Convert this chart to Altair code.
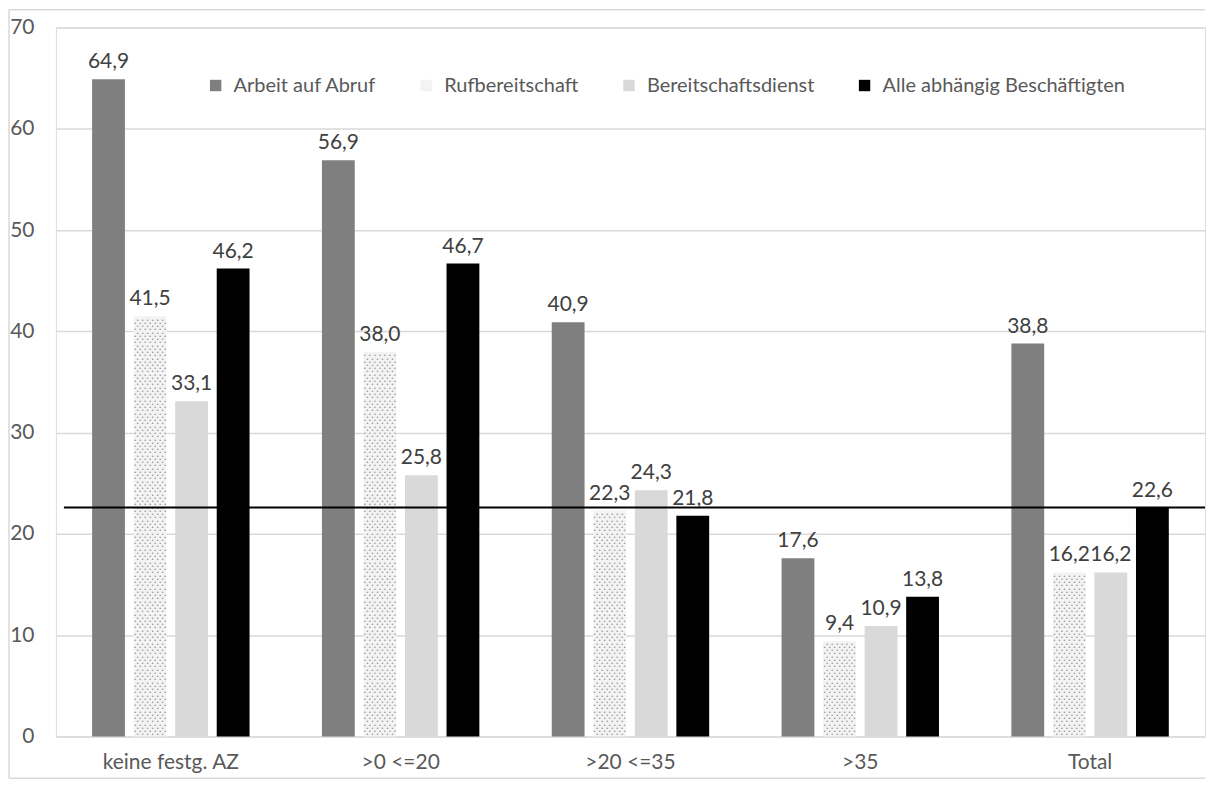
import altair as alt
import pandas as pd

categories = ["keine festg. AZ", ">0 <=20", ">20 <=35", ">35", "Total"]
series = ["Arbeit auf Abruf", "Rufbereitschaft", "Bereitschaftsdienst", "Alle abhängig Beschäftigten"]
arbeit_auf_abruf = [64.9, 56.9, 40.9, 17.6, 38.8]
rufbereitschaft = [41.5, 38.0, 22.3, 9.4, 16.2]
bereitschaftsdienst = [33.1, 25.8, 24.3, 10.9, 16.2]
alle = [46.2, 46.7, 21.8, 13.8, 22.6]
reference_line = 22.6
colors = ["#7f7f7f", "#f3f3f3", "#d9d9d9", "#000000"]

W, H = 1151, 710
FONT = "Lato"
FS = 21

rows = []
for s, vals in zip(series, [arbeit_auf_abruf, rufbereitschaft, bereitschaftsdienst, alle]):
    for c, v in zip(categories, vals):
        rows.append({"cat": c, "series": s, "value": v, "label": f"{v:.1f}".replace(".", ",")})
df = pd.DataFrame(rows)

# dot texture for the Rufbereitschaft bars
dot_rows = []
for c, v in zip(categories, rufbereitschaft):
    i = 0
    y = 0.2
    while y < v - 0.15:
        dot_rows.append({"cat": c, "series": "Rufbereitschaft", "value": y, "odd": i % 2})
        i += 1
        y += 0.32
dots = pd.DataFrame(dot_rows)

x_enc = alt.X("cat:N", sort=categories, title=None,
              scale=alt.Scale(paddingInner=0.315, paddingOuter=0.1575),
              axis=alt.Axis(labelAngle=0, ticks=False, domain=False, labelPadding=15,
                            labelFont=FONT, labelFontSize=FS, labelColor="#595959"))
xo_enc = alt.XOffset("series:N", sort=series,
                     scale=alt.Scale(domain=series, paddingInner=0.21, paddingOuter=0))
y_enc = alt.Y("value:Q", title=None,
              scale=alt.Scale(domain=[0, 70], nice=False),
              axis=alt.Axis(values=list(range(0, 80, 10)), ticks=False, domain=False,
                            labelPadding=22, labelFont=FONT, labelFontSize=FS,
                            labelColor="#595959", gridColor="#d9d9d9", gridWidth=1.5))

bars = alt.Chart(df).mark_bar().encode(
    x=x_enc, xOffset=xo_enc, y=y_enc,
    color=alt.Color("series:N", sort=series,
                    scale=alt.Scale(domain=series, range=colors),
                    legend=alt.Legend(title=None, orient="none", direction="horizontal",
                                      legendX=150, legendY=48, symbolType="square",
                                      symbolSize=130, symbolStrokeWidth=0,
                                      labelFont=FONT, labelFontSize=20, labelColor="#595959",
                                      labelLimit=500, columnPadding=40, labelOffset=8,
                                      columns=4)),
)

dot_layers = []
for parity, offsets in [(0, [-12.5, -7.5, -2.5, 2.5, 7.5, 12.5]), (1, [-15, -10, -5, 0, 5, 10, 15])]:
    for dx in offsets:
        dot_layers.append(
            alt.Chart(dots).transform_filter(alt.datum.odd == parity).mark_text(
                text="•", fontSize=5, color="#8c8c8c", dx=dx, baseline="middle"
            ).encode(x=x_enc, xOffset=xo_enc, y=y_enc)
        )

labels = alt.Chart(df).mark_text(
    baseline="bottom", dy=-7, font=FONT, fontSize=FS, color="#404040"
).encode(x=x_enc, xOffset=xo_enc, y=y_enc, text="label:N")

ref = alt.Chart(alt.Data(values=[{"v": reference_line}])).mark_rule(
    color="#000000", strokeWidth=2
).encode(y=alt.Y("v:Q"), x=alt.value(8), x2=alt.value(W))

frame_top = alt.Chart(alt.Data(values=[{}])).mark_rule(color="#d9d9d9", strokeWidth=1.5).encode(
    x=alt.value(-47), x2=alt.value(W), y=alt.value(-18))
frame_left = alt.Chart(alt.Data(values=[{}])).mark_rule(color="#d9d9d9", strokeWidth=1.5).encode(
    x=alt.value(-47), y=alt.value(-18), y2=alt.value(H + 42))
frame_bottom = alt.Chart(alt.Data(values=[{}])).mark_rule(color="#d9d9d9", strokeWidth=1.5).encode(
    x=alt.value(-47), x2=alt.value(W), y=alt.value(H + 42))

chart = alt.layer(frame_top, frame_left, frame_bottom, bars, *dot_layers, labels, ref).properties(
    width=W, height=H,
    padding={"left": 0, "top": 0, "right": 0, "bottom": 0},
).configure_view(stroke=None).configure(background="white")

chart.save("out.html", embed_options={"renderer": "svg", "actions": False})
